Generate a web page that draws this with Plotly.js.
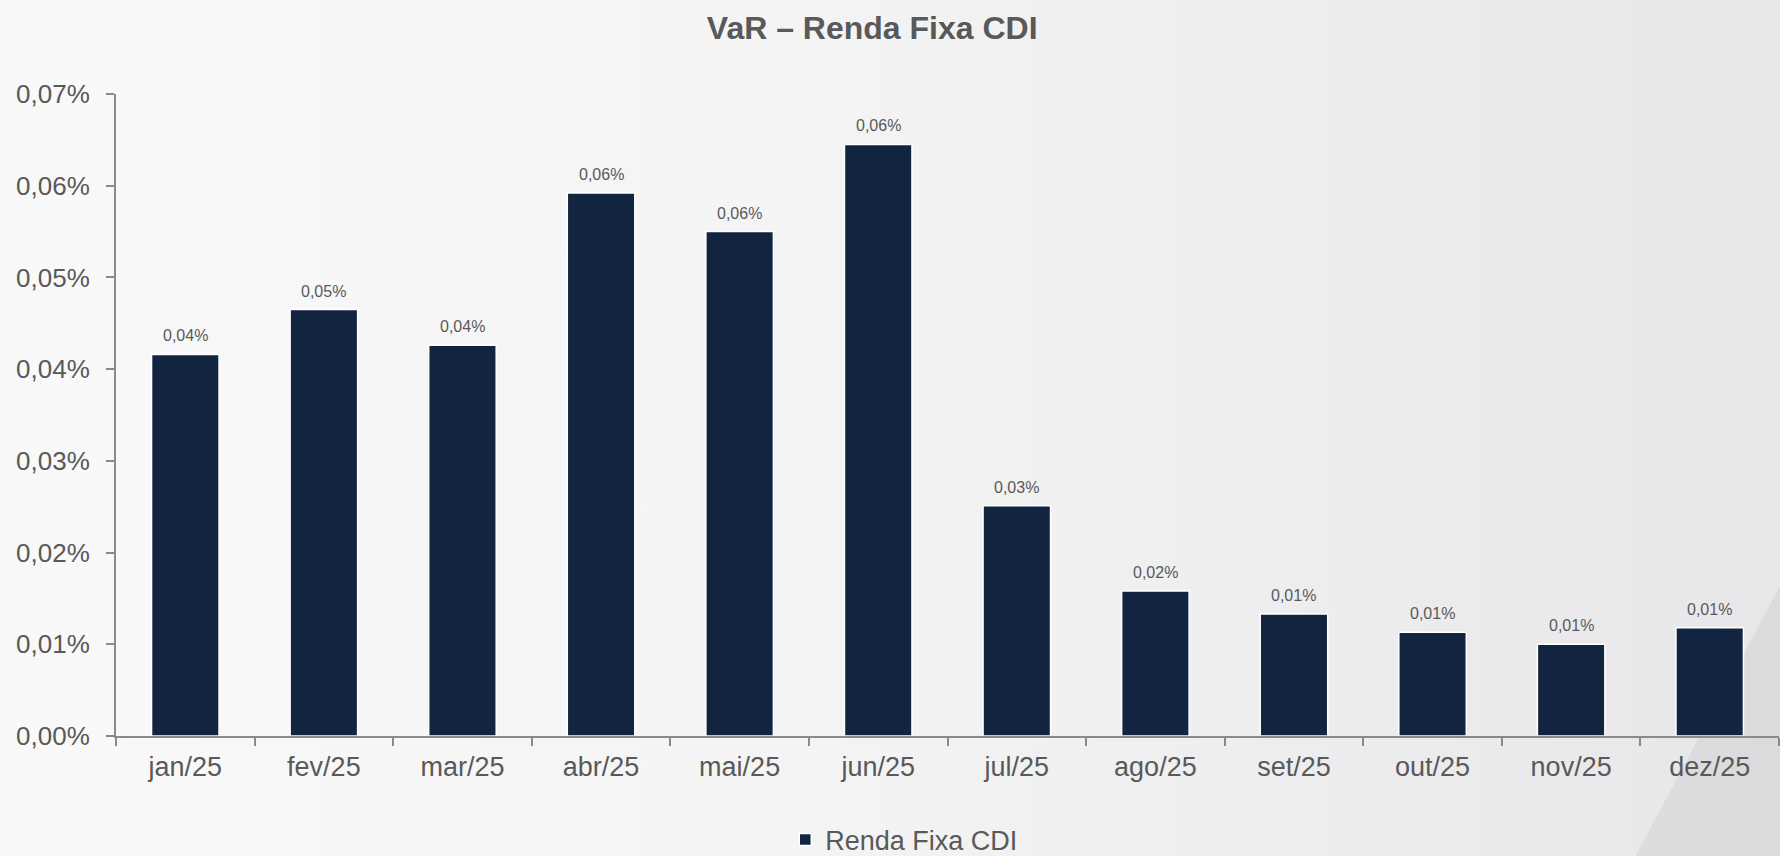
<!DOCTYPE html>
<html>
<head>
<meta charset="utf-8">
<script src="https://cdn.plot.ly/plotly-3.0.1.min.js"></script>
<style>
  html, body { margin: 0; padding: 0; width: 1780px; height: 856px; overflow: hidden; }
  body { background: linear-gradient(90deg, #f9f9fa 0%, #f4f4f5 45%, #e7e7e9 100%); }
  #chart { width: 1780px; height: 856px; }
</style>
</head>
<body>
<div id="chart"></div>
<script>
const categories = ["jan/25", "fev/25", "mar/25", "abr/25", "mai/25", "jun/25",
                    "jul/25", "ago/25", "set/25", "out/25", "nov/25", "dez/25"];
const varRendaFixaCDI = [0.0416, 0.0465, 0.0426, 0.0592, 0.0550, 0.0645,
                         0.0251, 0.0158, 0.0133, 0.0113, 0.0100, 0.0118];
const seriesName = "Renda Fixa CDI";
const chartTitle = "VaR – Renda Fixa CDI";
const yTickValues = [0, 0.01, 0.02, 0.03, 0.04, 0.05, 0.06, 0.07];

const FONT = "Liberation Sans, Arial, sans-serif";
const GREY = "#595959";
const fmtPct = v => v.toFixed(2).replace(".", ",") + "%";

const trace = {
  type: "bar",
  x: categories,
  y: varRendaFixaCDI,
  name: seriesName,
  marker: { color: "#12243f", line: { color: "#ffffff", width: 1.5 } },
  hoverinfo: "skip",
  showlegend: true
};

const annotations = categories.map((c, i) => ({
  x: c, y: varRendaFixaCDI[i], xref: "x", yref: "y",
  text: fmtPct(varRendaFixaCDI[i]),
  showarrow: false, yanchor: "bottom", yshift: 8,
  font: { family: FONT, size: 16, color: GREY }
}));

const layout = {
  width: 1780, height: 856,
  paper_bgcolor: "rgba(0,0,0,0)",
  plot_bgcolor: "rgba(0,0,0,0)",
  margin: { l: 116, r: 1, t: 94, b: 120, pad: 0, autoexpand: false },
  separators: ",.",
  font: { family: FONT, color: GREY },
  title: {
    text: chartTitle,
    x: 0.49, xref: "container", xanchor: "center",
    y: 0.968, yref: "container", yanchor: "middle",
    font: { family: FONT, size: 32, color: GREY, weight: "bold" }
  },
  bargap: 0.513,
  xaxis: {
    type: "category",
    showgrid: false, zeroline: false,
    showline: true, linecolor: "#8a8a8a", linewidth: 2,
    ticks: "outside", tickson: "boundaries", ticklen: 8, tickcolor: "#8a8a8a", tickwidth: 2,
    tickfont: { family: FONT, size: 27, color: GREY },
    ticklabelstandoff: 6
  },
  yaxis: {
    range: [0, 0.07],
    tickmode: "array",
    tickvals: yTickValues,
    ticktext: yTickValues.map(fmtPct),
    showgrid: false, zeroline: false,
    showline: true, linecolor: "#8a8a8a", linewidth: 2,
    ticks: "outside", ticklen: 8, tickcolor: "#8a8a8a", tickwidth: 2,
    tickfont: { family: FONT, size: 26, color: GREY },
    ticklabelstandoff: 11
  },
  showlegend: true,
  legend: {
    orientation: "h",
    x: 0.474, xanchor: "center",
    y: -0.162, yanchor: "middle",
    font: { family: FONT, size: 27, color: GREY },
    bgcolor: "rgba(0,0,0,0)",
    itemwidth: 30
  },
  shapes: [
    {
      type: "path", xref: "paper", yref: "paper", layer: "below",
      path: "M 1.001 0.235 L 1.001 -0.19 L 0.913 -0.19 Z",
      fillcolor: "rgba(0,0,0,0.05)", line: { width: 0 }
    }
  ],
  annotations: annotations
};

Plotly.newPlot("chart", [trace], layout, { staticPlot: true, displayModeBar: false });
</script>
</body>
</html>
